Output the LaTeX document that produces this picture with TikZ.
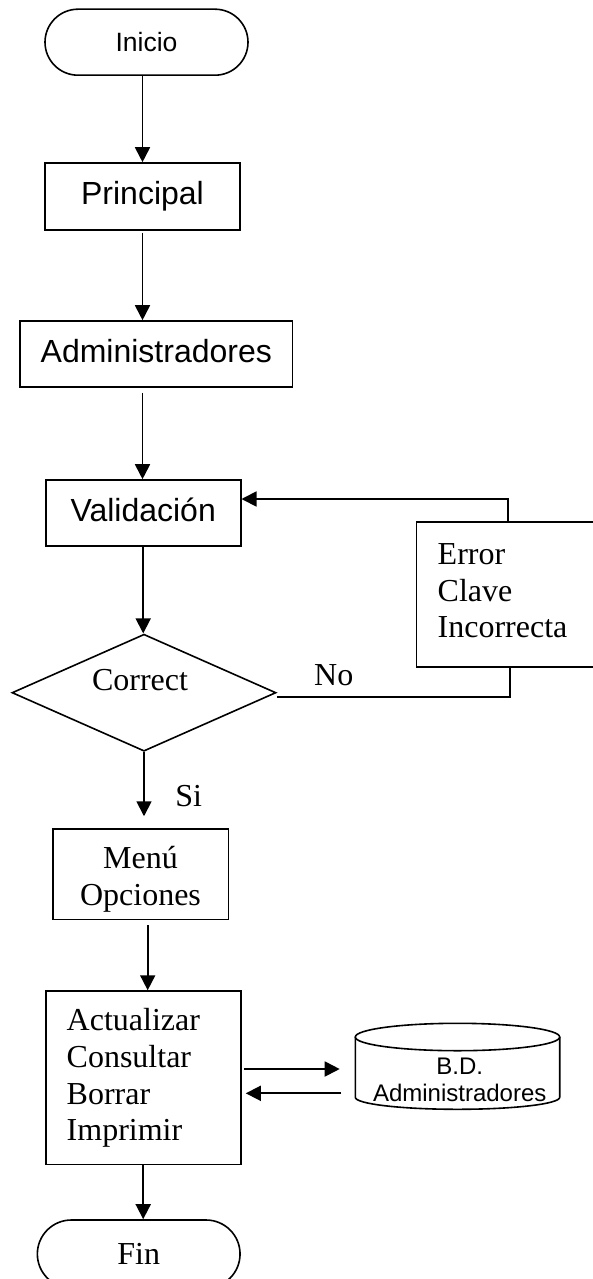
\documentclass[tikz,border=0pt]{standalone}
\usepackage{fontspec}
\setmainfont{Liberation Serif}
\newfontfamily\arialf{Liberation Sans}
\usetikzlibrary{arrows.meta,shapes.geometric}
\tikzset{
  base/.style={inner sep=0pt, line width=1.6pt},
  sbox/.style={base, draw, rectangle, font=\arialf\fontsize{32}{36.8}\selectfont, text height=24pt, text depth=8pt},
  tbox/.style={base, draw, rectangle, font=\fontsize{32}{36.7}\selectfont},
  term/.style={base, draw, rectangle, rounded corners=33pt},
  line/.style={line width=1.8pt},
  arr/.style={line width=1.8pt, -{Triangle[length=15pt,width=15pt]}},
  lbl/.style={inner sep=0pt, font=\fontsize{32}{36.7}\selectfont, text height=21.2pt, text depth=0pt}
}
\begin{document}
\begin{tikzpicture}[x=1pt,y=-1pt]
\useasboundingbox (0,0) rectangle (592,1279);
% nodes
\node[term, minimum width=203pt, minimum height=66pt, font=\arialf\fontsize{26.5}{30}\selectfont, text height=19pt, text depth=0pt] (ini) at (146.5,42.2) {Inicio};
\node[sbox, minimum width=195pt, minimum height=67pt] (pri) at (142.5,196.5) {Principal};
\node[sbox, minimum width=272.7pt, minimum height=66pt] (adm) at (156.3,354) {Administradores};
\node[sbox, minimum width=195pt, minimum height=66pt] (val) at (143.2,513) {Validación};
\node[tbox, minimum width=179.7pt, minimum height=145pt, text width=136.9pt, inner xsep=21.4pt, align=left, text height=0pt, text depth=59.4pt] (err) at (506.15,594.2) {Error\\Clave\\Incorrecta};
\node[base, draw, diamond, minimum width=264pt, minimum height=117pt, font=\fontsize{32}{36.7}\selectfont, text height=0pt, text depth=4.6pt] (dia) at (144,692.7) {\hspace*{-8pt}Correct};
\node[lbl] (no) at (333.8,674.4) {No};
\node[lbl] (si) at (188.7,796.1) {Si};
\node[tbox, minimum width=175.6pt, minimum height=90.3pt, align=center, text height=61.6pt, text depth=0pt] (men) at (140.5,874.2) {Menú\\Opciones};
\node[tbox, minimum width=195pt, minimum height=173.3pt, text width=153pt, inner xsep=21pt, align=left, text height=0pt, text depth=94pt] (act) at (143.2,1077.7) {Actualizar\\Consultar\\Borrar\\Imprimir};
% database cylinder
\draw[base] (457.5,1037) ellipse [x radius=102.2pt, y radius=13.7pt];
\draw[base] (355.3,1037) -- (355.3,1097.3) arc[start angle=180, end angle=360, x radius=102.2pt, y radius=12pt] -- (559.7,1037);
\node[inner sep=0pt, align=center, font=\arialf\fontsize{24}{26.7}\selectfont] (db) at (459.7,1079.8) {B.D.\\Administradores};
\node[term, rounded corners=34pt, minimum width=202.7pt, minimum height=68pt, font=\fontsize{32}{36.7}\selectfont, text height=21.2pt, text depth=0pt] (fin) at (138.7,1254) {Fin};
\coordinate (dbin) at (339.7,1069);
\coordinate (dbout) at (341,1093.3);
% connectors
\draw[arr] (ini.south -| pri.north) -- (pri.north);
\draw[arr, shorten <=2pt] (pri.south) -- (pri.south |- adm.north);
\draw[arr, shorten <=5pt] (pri.south |- adm.south) -- (pri.south |- val.north);
\draw[arr] (val.south) -- (val.south |- dia.north);
\draw[arr, shorten >=12pt] (dia.south) -- (dia.south |- men.north);
\draw[line] ([yshift=-4pt]dia.east) -| ([xshift=4.15pt]err.south);
\draw[arr] ([xshift=1.85pt]err.north) |- ([yshift=14pt]val.east);
\draw[arr, shorten <=5pt] ([xshift=7.2pt]men.south) -- ([xshift=7.2pt]men.south |- act.north);
\draw[arr, shorten <=2.3pt] (act.east |- dbin) -- (dbin);
\draw[arr, shorten >=4.3pt] (dbout) -- (act.east |- dbout);
\draw[arr] (act.south) -- (act.south |- fin.north);
\end{tikzpicture}
\end{document}
